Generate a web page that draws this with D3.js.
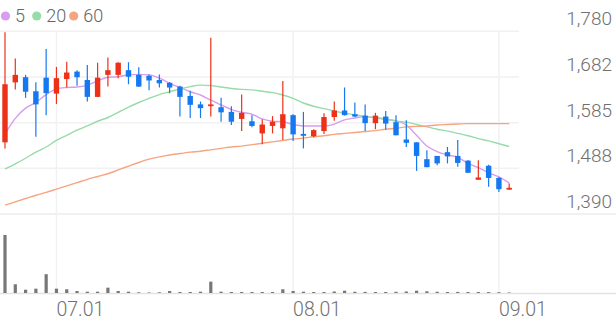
<!DOCTYPE html>
<html>
<head>
<meta charset="utf-8">
<script src="https://cdn.jsdelivr.net/npm/d3@7"></script>
<style>
  html, body { margin: 0; padding: 0; background: #fff; }
  svg { display: block; font-family: Roboto, "Noto Sans", sans-serif; }
  .lbl { font-weight: 300; }
</style>
</head>
<body>
<svg id="chart" width="616" height="321"></svg>
<script>
// --- Données
const dates = [
  '06.24','06.25','06.26','06.27','06.30',
  '07.01','07.02','07.03','07.04','07.07','07.08','07.09','07.10','07.11','07.14','07.15','07.16',
  '07.17','07.18','07.21','07.22','07.23','07.24','07.25','07.28','07.29','07.30','07.31',
  '08.01','08.04','08.05','08.06','08.07','08.08','08.11','08.12','08.13','08.14','08.18','08.19',
  '08.20','08.21','08.22','08.25','08.26','08.27','08.28','08.29',
  '09.01','09.02'
];
const open  = [1543,1671,1682,1652,1681,1647,1678,1694,1676,1640, 1687,1687,1697,1687,1685,1676,1670,1662,1642,1624,
               1621,1618,1608,1593,1588,1562,1578,1573,1601,1561, 1556,1567,1597,1611,1603,1600,1584,1598,1586,1549,
               1543,1507,1514,1522,1514,1504,1463,1493,1467,1442];
const high  = [1778,1722,1687,1671,1742,1704,1715,1697,1708,1713, 1724,1714,1714,1703,1688,1688,1672,1664,1653,1630,
               1766,1638,1620,1645,1601,1592,1599,1674,1603,1608, 1571,1605,1630,1660,1628,1624,1606,1610,1601,1590,
               1543,1526,1514,1533,1548,1505,1505,1495,1469,1455];
const low   = [1530,1656,1638,1555,1601,1625,1660,1664,1630,1640, 1662,1680,1667,1661,1654,1660,1648,1598,1595,1595,
               1598,1587,1580,1567,1575,1539,1562,1548,1546,1530, 1554,1561,1589,1600,1597,1567,1571,1570,1558,1533,
               1482,1490,1494,1498,1491,1478,1463,1448,1437,1442];
const close = [1667,1687,1651,1624,1648,1680,1692,1682,1640,1681, 1697,1713,1683,1662,1675,1669,1660,1640,1623,1616,
               1624,1607,1587,1606,1578,1581,1587,1603,1560,1557, 1569,1597,1611,1601,1598,1584,1600,1583,1558,1542,
               1514,1490,1498,1513,1499,1478,1468,1467,1443,1446];
const ma5   = [1561,1594,1616,1628,1645,1657,1660,1661,1665,1674, 1682,1683,1687,1688,1687,1680,1669,1660,1651,1644,
               1633,1623,1613,1607,1603,1593,1588,1587,1581,1578, 1578,1578,1582,1591,1595,1598,1595,1592,1589,1580,
               1558,1535,1523,1516,1511,1498,1489,1478,1469,1456];
const ma20  = [1486,1497,1509,1522,1533,1547,1558,1569,1578,1588, 1596,1607,1618,1628,1637,1645,1651,1657,1662,1665,
               1664,1661,1658,1656,1655,1652,1649,1644,1637,1627, 1620,1615,1610,1605,1602,1598,1596,1593,1588,1586,
               1581,1576,1571,1567,1562,1557,1551,1546,1540,1534];
const ma60  = [1409,1416,1423,1430,1436,1443,1450,1457,1464,1470, 1476,1484,1492,1500,1507,1512,1516,1519,1522,1524,
               1527,1530,1533,1535,1538,1541,1544,1547,1550,1552, 1555,1557,1560,1562,1564,1566,1568,1571,1573,1576,
               1577,1578,1580,1581,1582,1583,1583,1583,1583,1583];
const volume = [1154,174,66,86,374,86,74,40,26,26, 106,40,26,14,10,14,40,20,20,26,
                226,26,20,20,20,20,20,74,40,26, 20,20,30,46,24,22,20,20,24,30,
                46,34,24,20,22,20,20,18,16,10];
const yTicks = [1390, 1487.5, 1585, 1682.5, 1780];
const yTickLabels = ['1,390', '1,488', '1,585', '1,682', '1,780'];
const xTicks = ['07.01', '08.01', '09.01'];
const maPeriods = ['5', '20', '60'];

// --- Styles
const UP = '#ec3118', DOWN = '#1479f0';
const maColors = ['#d69df0', '#97dca8', '#f6a581'];
const GRID = '#f1f1f1';

const svg = d3.select('#chart');
const W = 616, H = 321;
const plotRight = 519;

// --- Echelles
const x = d3.scalePoint().domain(dates).range([5, 509.2]);
const y = d3.scaleLinear().domain([1390, 1780]).range([214, 31.3]);
const yv = d3.scaleLinear().domain([0, d3.max(volume)]).range([293, 235]);

// --- Grille
const grid = svg.append('g');
grid.selectAll('line.h').data(yTicks.slice(1)).join('line')
  .attr('x1', 0).attr('x2', plotRight)
  .attr('y1', d => y(d)).attr('y2', d => y(d))
  .attr('stroke', GRID).attr('stroke-width', 1.5);
grid.append('line').attr('x1', 0).attr('x2', W).attr('y1', y(1390)).attr('y2', y(1390))
  .attr('stroke', '#ececec').attr('stroke-width', 1.5);
grid.selectAll('line.v').data(xTicks).join('line')
  .attr('x1', d => x(d)).attr('x2', d => x(d))
  .attr('y1', y(1780)).attr('y2', 293)
  .attr('stroke', GRID).attr('stroke-width', 1.5);
grid.append('line').attr('x1', 0).attr('x2', W).attr('y1', 293.5).attr('y2', 293.5)
  .attr('stroke', '#e3e3e3').attr('stroke-width', 1.5);

// --- Axe Y (à droite)
svg.append('g').selectAll('text').data(yTicks).join('text')
  .attr('class', 'lbl')
  .attr('x', 612).attr('y', d => y(d) - 6)
  .attr('text-anchor', 'end')
  .attr('font-size', 19).attr('fill', '#707070')
  .text((d, i) => yTickLabels[i]);

// --- Axe X
svg.append('g').selectAll('text').data(xTicks).join('text')
  .attr('class', 'lbl')
  .attr('x', d => x(d)).attr('y', 316)
  .attr('font-size', 19.5).attr('fill', '#707070')
  .text(d => d);

// --- Volume
svg.append('g').selectAll('rect').data(volume).join('rect')
  .attr('x', (d, i) => x(dates[i]) - 1.6).attr('width', 3.2)
  .attr('y', d => yv(d)).attr('height', d => 293 - yv(d))
  .attr('fill', '#777');

// --- Moyennes mobiles
[ma5, ma20, ma60].forEach((ma, k) => {
  const line = d3.line().x((d, i) => x(dates[i])).y(d => y(d)).curve(d3.curveMonotoneX);
  svg.append('path').datum(ma).attr('d', line)
    .attr('fill', 'none').attr('stroke', maColors[k]).attr('stroke-width', 1.4);
});

// --- Chandeliers
const candles = svg.append('g').selectAll('g').data(dates).join('g');
candles.append('line')
  .attr('x1', d => x(d)).attr('x2', d => x(d))
  .attr('y1', (d, i) => y(high[i])).attr('y2', (d, i) => y(low[i]))
  .attr('stroke', (d, i) => close[i] >= open[i] ? UP : DOWN).attr('stroke-width', 1.2);
candles.append('rect')
  .attr('x', d => x(d) - 2.7).attr('width', 5.4)
  .attr('y', (d, i) => y(Math.max(open[i], close[i])))
  .attr('height', (d, i) => Math.max(1.8, Math.abs(y(open[i]) - y(close[i]))))
  .attr('fill', (d, i) => close[i] >= open[i] ? UP : DOWN);

// --- Légende
const leg = svg.append('g');
const legX = [5.5, 36.7, 73.7];
maPeriods.forEach((p, k) => {
  leg.append('circle').attr('cx', legX[k]).attr('cy', 16).attr('r', 4.6).attr('fill', maColors[k]);
  leg.append('text').attr('class', 'lbl').attr('x', legX[k] + 9.5).attr('y', 22)
    .attr('font-size', 18).attr('fill', '#666').text(p);
});
</script>
</body>
</html>
